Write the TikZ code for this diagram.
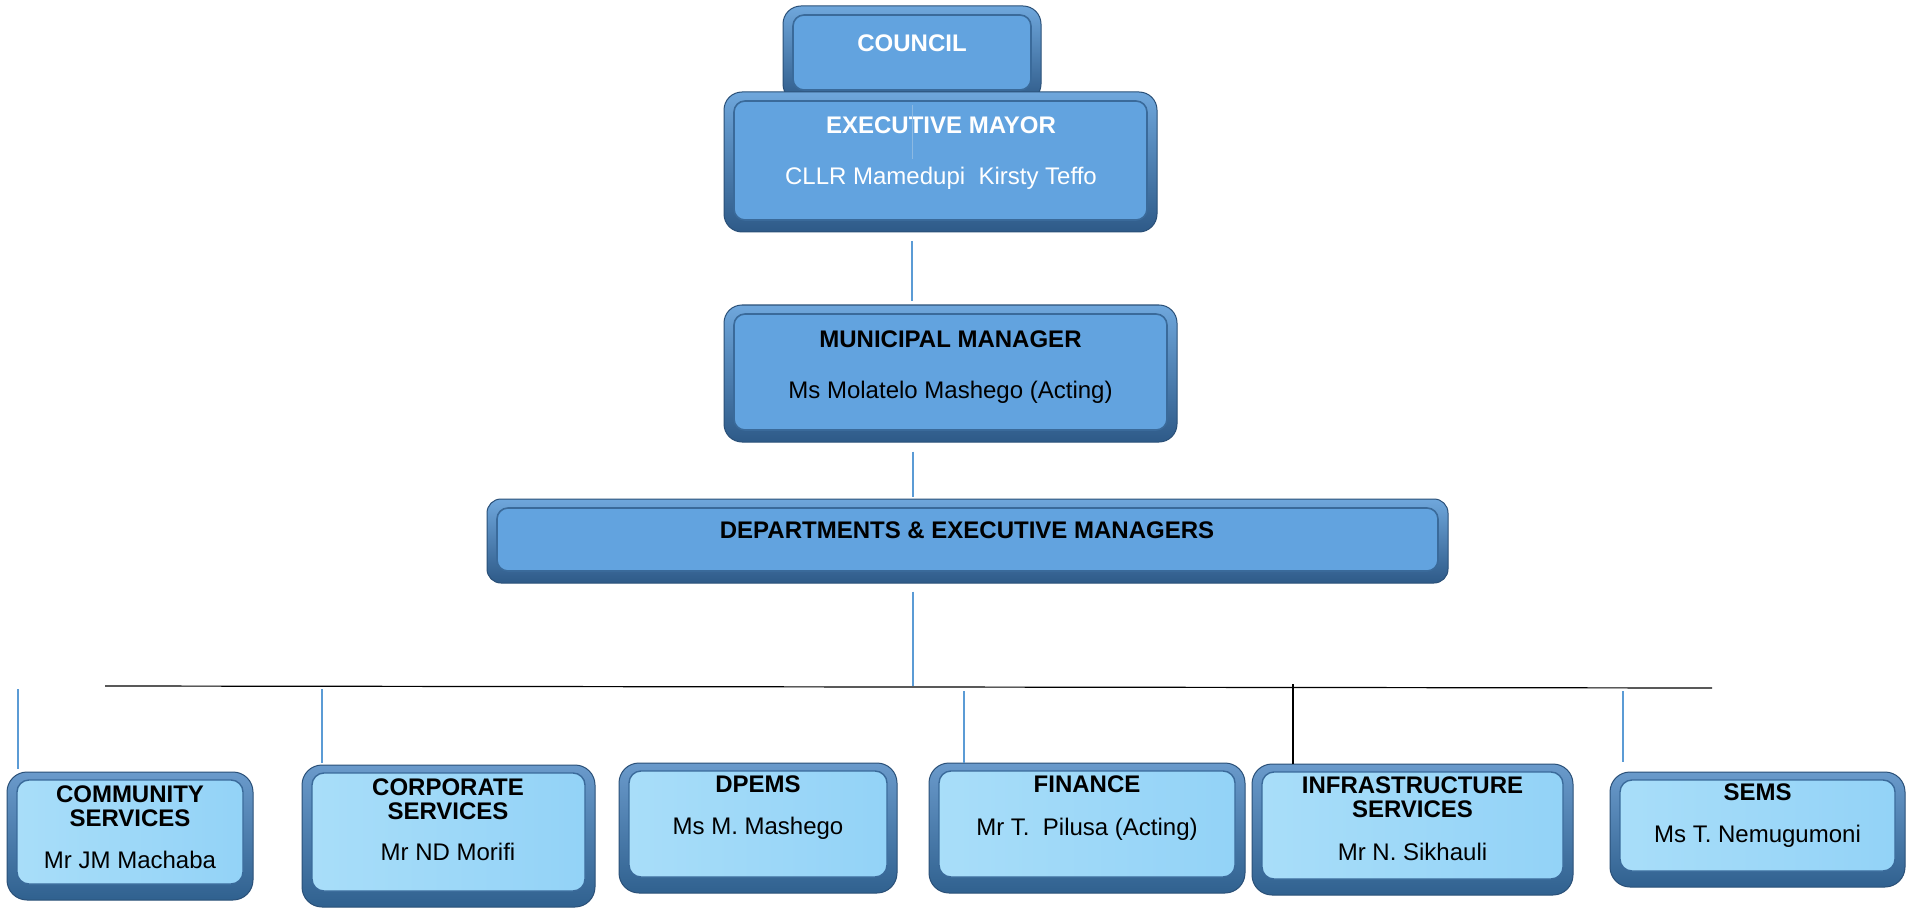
\documentclass[tikz,border=0pt]{standalone}
\usepackage{fontspec}
\setmainfont{Liberation Sans}
\definecolor{rimA}{HTML}{6FA7DC}
\definecolor{rimB}{HTML}{2E5A88}
\definecolor{rimD}{HTML}{2A5078}
\definecolor{panelTop}{HTML}{62A3DF}
\definecolor{panelEdge}{HTML}{3A6A9A}
\definecolor{panelLoA}{HTML}{A9DEF9}
\definecolor{panelLoB}{HTML}{92D2F7}
\definecolor{rimLoA}{HTML}{6A9ACB}
\definecolor{rimLoB}{HTML}{30618F}
\definecolor{conn}{HTML}{5B9BD5}
\tikzset{
  topbox/.style={rectangle, rounded corners=18pt, top color=rimA, bottom color=rimB,
    draw=rimD, line width=1pt, inner sep=0pt,
    path picture={\fill[rounded corners=11pt, fill=panelTop, draw=panelEdge, line width=1.6pt]
      ([xshift=10pt,yshift=-9pt]path picture bounding box.north west) rectangle
      ([xshift=-10pt,yshift=12pt]path picture bounding box.south east);}},
  lowbox/.style={rectangle, rounded corners=20pt, top color=rimLoA, bottom color=rimLoB,
    draw=rimD, line width=1pt, inner sep=0pt,
    path picture={\shade[rounded corners=12pt, left color=panelLoA, right color=panelLoB]
      ([xshift=10pt,yshift=-8pt]path picture bounding box.north west) rectangle
      ([xshift=-10pt,yshift=16pt]path picture bounding box.south east);
      \draw[rounded corners=12pt, draw=panelEdge, line width=1.4pt]
      ([xshift=10pt,yshift=-8pt]path picture bounding box.north west) rectangle
      ([xshift=-10pt,yshift=16pt]path picture bounding box.south east);}},
  lbl/.style={font=\fontsize{24}{24}\selectfont, inner sep=0pt, anchor=base, align=center},
  blbl/.style={lbl, font=\fontsize{24}{24}\selectfont\bfseries},
  link/.style={draw=conn, line width=1.1pt},
  blink/.style={draw=black, line width=1.2pt},
}
\begin{document}
\begin{tikzpicture}[x=1pt, y=-1pt]
\useasboundingbox[fill=white] (0,0) rectangle (1911,909);
% top boxes
\node[topbox, minimum width=258pt, minimum height=96pt] (council) at (912,54) {};
\node[topbox, minimum width=433pt, minimum height=140pt] (mayor) at (940.5,162) {};
\node[topbox, minimum width=453pt, minimum height=137pt] (mm) at (950.5,373.5) {};
\node[topbox, minimum width=961pt, minimum height=84pt, rounded corners=14pt] (dept) at (967.5,541) {};
% bottom boxes
\node[lowbox, minimum width=246pt, minimum height=128pt] (comm) at (130,836) {};
\node[lowbox, minimum width=293pt, minimum height=142pt] (corp) at (448.5,836) {};
\node[lowbox, minimum width=278pt, minimum height=130pt] (dpems) at (758,828) {};
\node[lowbox, minimum width=316pt, minimum height=130pt] (fin) at (1087,828) {};
\node[lowbox, minimum width=321pt, minimum height=131pt] (infra) at (1412.5,829.5) {};
\node[lowbox, minimum width=295pt, minimum height=115pt] (sems) at (1757.5,829.5) {};
% texts (multi-line nodes: base anchor = last line's baseline)
\node[blbl, text=white] (tcouncil) at (912,52) {COUNCIL};
\node[blbl, text=white] (tmayor) at (941,134) {EXECUTIVE MAYOR};
\node[lbl, text=white] (nmayor) at (941,185) {CLLR Mamedupi\ \ Kirsty Teffo};
\node[blbl] (tmm) at (950.5,347) {MUNICIPAL MANAGER};
\node[lbl] (nmm) at (950.5,398) {Ms Molatelo Mashego (Acting)};
\node[blbl] (tdept) at (967,538) {DEPARTMENTS \& EXECUTIVE MANAGERS};
\node[blbl] (tcomm) at (130,826) {COMMUNITY\\SERVICES};
\node[lbl] (ncomm) at (130,868) {Mr JM Machaba};
\node[blbl] (tcorp) at (448,819) {CORPORATE\\SERVICES};
\node[lbl] (ncorp) at (448,860) {Mr ND Morifi};
\node[blbl] (tdpems) at (758,792) {DPEMS};
\node[lbl] (ndpems) at (758,834) {Ms M. Mashego};
\node[blbl] (tfin) at (1087,792) {FINANCE};
\node[lbl] (nfin) at (1087,835) {Mr T.\ \ Pilusa (Acting)};
\node[blbl] (tinfra) at (1412.5,817) {INFRASTRUCTURE\\SERVICES};
\node[lbl] (ninfra) at (1412.5,860) {Mr N. Sikhauli};
\node[blbl] (tsems) at (1757.5,800) {SEMS};
\node[lbl] (nsems) at (1757.5,842) {Ms T. Nemugumoni};
% connector coordinates
\coordinate (ax) at (912,0);
\coordinate (bx) at (913,0);
\coordinate (busL) at (105,686);
\coordinate (busR) at (1712,688);
\coordinate (busM) at (913,686);
\coordinate (dcomm) at (18,689);
\coordinate (dcorp) at (322,689);
\coordinate (dfin) at (964,691);
\coordinate (dinfra) at (1293,684);
\coordinate (dsems) at (1623,691);
% connectors
\draw[draw=conn!70, line width=0.7pt, shorten <=3pt] (council.south -| ax) -- ++(0,57);
\draw[link, shorten <=9pt, shorten >=3pt] (mayor.south -| ax) -- (mm.north -| ax);
\draw[link, shorten <=9pt, shorten >=2pt] (mm.south -| bx) -- (dept.north -| bx);
\draw[link, shorten <=8pt] (dept.south -| bx) -- (busM);
\draw[blink] (busL) -- (busR);
\draw[link, shorten >=3pt] (dcomm) -- (comm.north -| dcomm);
\draw[link, shorten >=2pt] (dcorp) -- (corp.north -| dcorp);
\draw[link] (dfin) -- (fin.north -| dfin);
\draw[blink] (dinfra) -- (infra.north -| dinfra);
\draw[link, shorten >=10pt] (dsems) -- (sems.north -| dsems);
\end{tikzpicture}
\end{document}
